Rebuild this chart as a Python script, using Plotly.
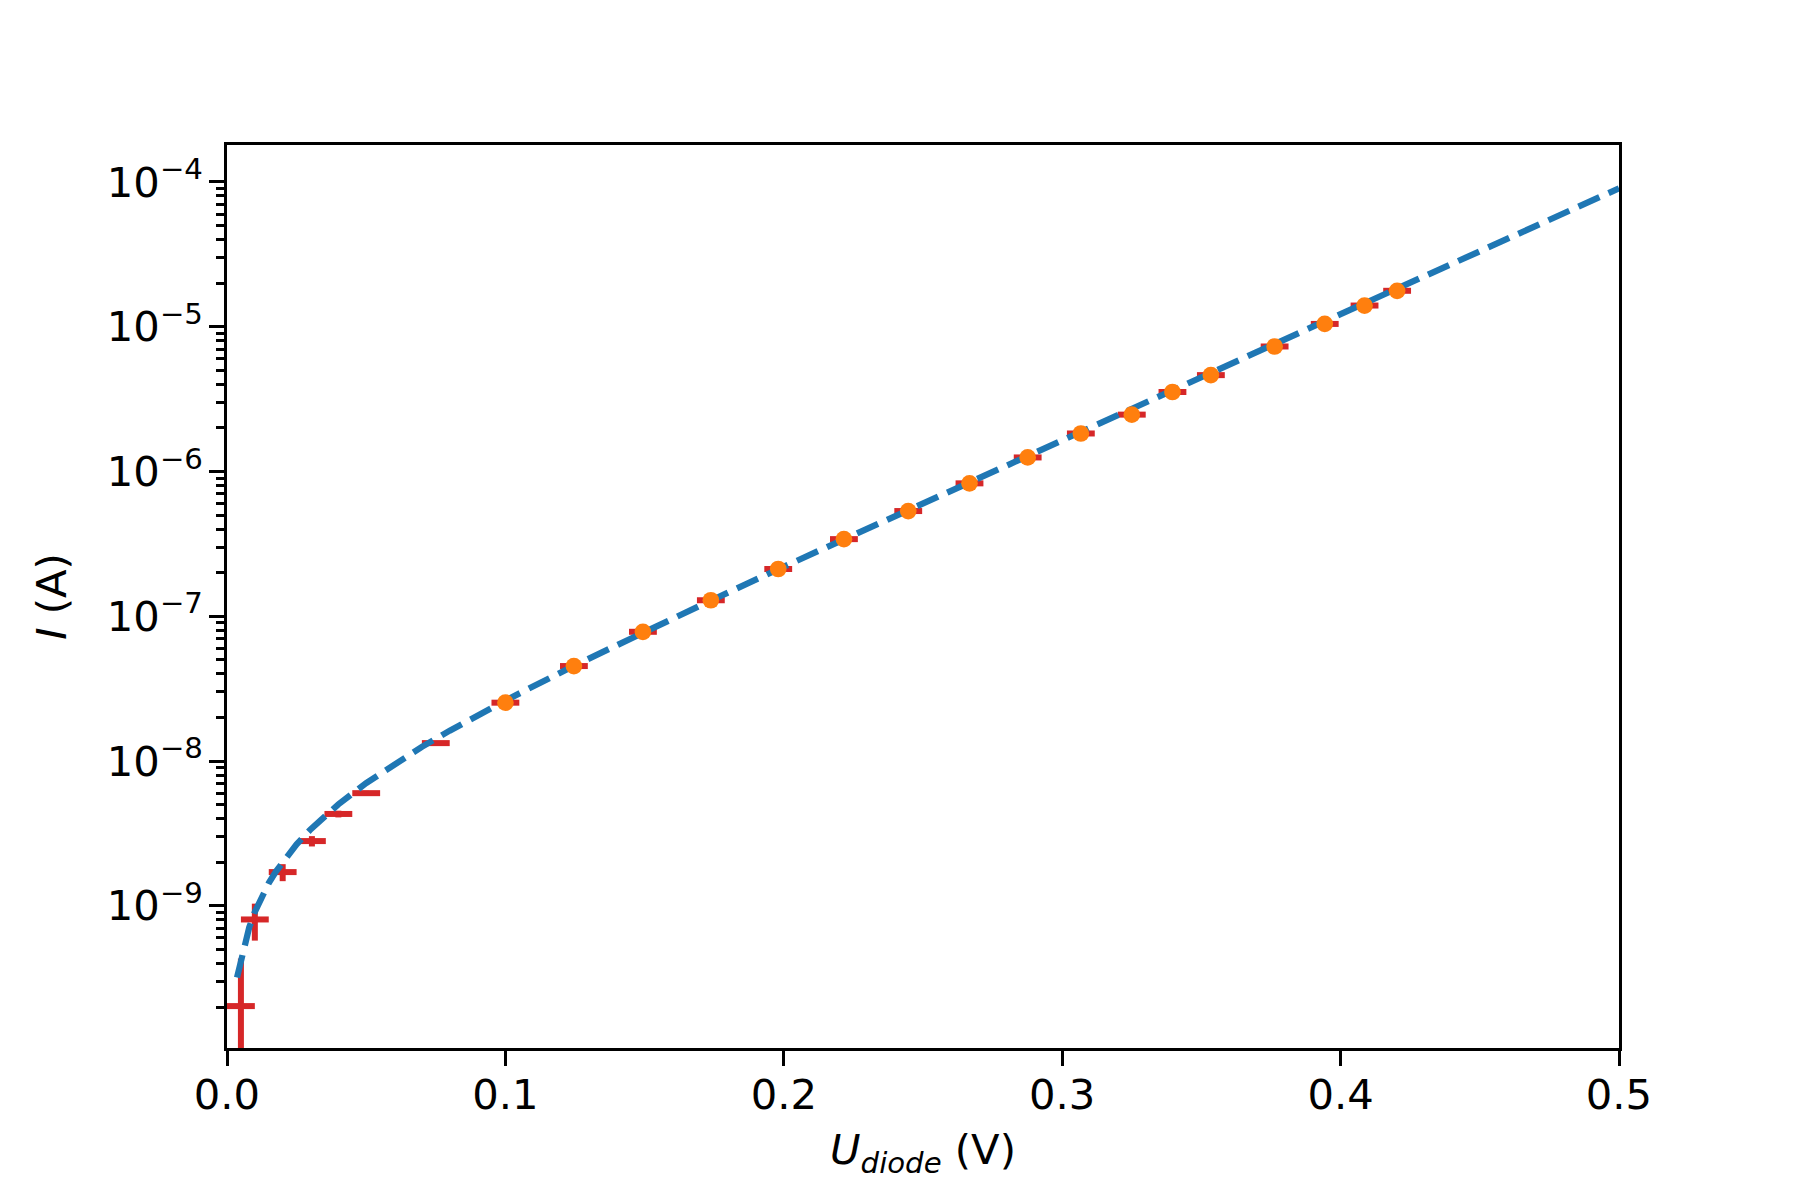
import plotly.graph_objects as go

# measured points: diode voltage (V) and current (A)
u_meas = [0.005, 0.010, 0.020, 0.0305, 0.040, 0.050, 0.075, 0.100, 0.1246,
          0.1494, 0.1738, 0.1980, 0.2216, 0.2447, 0.2667, 0.2876, 0.3067,
          0.3250, 0.3396, 0.3534, 0.3763, 0.3943, 0.4086, 0.4203]
i_meas = [2.03e-10, 8.05e-10, 1.71e-9, 2.80e-9, 4.31e-9, 6.0e-9, 1.33e-8,
          2.53e-8, 4.53e-8, 7.81e-8, 1.29e-7, 2.12e-7, 3.41e-7, 5.33e-7,
          8.28e-7, 1.25e-6, 1.83e-6, 2.47e-6, 3.54e-6, 4.63e-6, 7.30e-6,
          1.045e-5, 1.40e-5, 1.77e-5]
u_err = 0.005
i_err = [2.3e-10] * len(u_meas)

# points shown with orange dots (from 0.1 V upward)
n_skip = 7

# fitted curve
u_fit = [0.0036, 0.006, 0.008, 0.010, 0.0125, 0.015, 0.0175, 0.020, 0.025,
         0.030, 0.035, 0.040, 0.050, 0.060, 0.070, 0.080, 0.090, 0.100,
         0.125, 0.150, 0.175, 0.200, 0.250, 0.300, 0.350, 0.400, 0.450, 0.500]
i_fit = [3.2e-10, 5.23e-10, 7.11e-10, 9.08e-10, 1.164e-9, 1.435e-9, 1.718e-9,
         2.016e-9, 2.66e-9, 3.37e-9, 4.16e-9, 5.02e-9, 7.05e-9, 9.51e-9,
         1.253e-8, 1.621e-8, 2.07e-8, 2.62e-8, 4.59e-8, 7.82e-8, 1.317e-7,
         2.20e-7, 6.04e-7, 1.65e-6, 4.50e-6, 1.222e-5, 3.32e-5, 9.03e-5]

x_ticks = [0.0, 0.1, 0.2, 0.3, 0.4, 0.5]
x_labels = ["0.0", "0.1", "0.2", "0.3", "0.4", "0.5"]
y_ticks = [1e-9, 1e-8, 1e-7, 1e-6, 1e-5, 1e-4]
y_labels = ["10<sup>\u22129</sup>", "10<sup>\u22128</sup>", "10<sup>\u22127</sup>",
            "10<sup>\u22126</sup>", "10<sup>\u22125</sup>", "10<sup>\u22124</sup>"]

minor_y = [k * 10.0 ** e for e in range(-10, -3) for k in range(2, 10)]

fs = 41.7
font = dict(family="DejaVu Sans", size=fs, color="black")

fig = go.Figure()

fig.add_trace(go.Scatter(
    x=u_meas, y=i_meas, mode="markers",
    marker=dict(size=1, color="rgba(0,0,0,0)"),
    error_x=dict(type="constant", value=u_err, width=0, thickness=6, color="#d62728"),
    error_y=dict(type="data", array=i_err, width=0, thickness=6, color="#d62728"),
    showlegend=False,
))

fig.add_trace(go.Scatter(
    x=u_fit, y=i_fit, mode="lines",
    line=dict(color="#1f77b4", width=6.25, dash="23px,10px"),
    showlegend=False,
))

fig.add_trace(go.Scatter(
    x=u_meas[n_skip:], y=i_meas[n_skip:], mode="markers",
    marker=dict(size=16.7, color="#ff7f0e", line=dict(width=0)),
    showlegend=False,
))

# page body has an 8px margin, so the figure is shifted by that
fig.update_layout(
    width=1785, height=1185,
    margin=dict(l=219, r=174, t=137, b=145),
    paper_bgcolor="white", plot_bgcolor="white",
    font=font,
)

fig.update_xaxes(
    range=[0, 0.5], tickvals=x_ticks, ticktext=x_labels,
    showline=True, linecolor="black", linewidth=3.3, mirror=True,
    ticks="outside", ticklen=14.6, tickwidth=3.3, tickcolor="black",
    ticklabelstandoff=-7,
    showgrid=False, zeroline=False, tickfont=font,
    title=dict(text="<i>U</i><sub><i>diode</i></sub> (V)", font=font, standoff=18),
)

fig.update_yaxes(
    type="log", range=[-9.982, -3.745], tickvals=y_ticks, ticktext=y_labels,
    showline=True, linecolor="black", linewidth=3.3, mirror=True,
    ticks="outside", ticklen=14.6, tickwidth=3.3, tickcolor="black",
    ticklabelstandoff=-2,
    minor=dict(tickvals=minor_y, ticks="outside", ticklen=8.3, tickwidth=2.5,
               tickcolor="black", showgrid=False),
    showgrid=False, zeroline=False, tickfont=font,
    title=dict(text="<i>I</i> (A)", font=font, standoff=28),
)

fig.write_html("out.html")
